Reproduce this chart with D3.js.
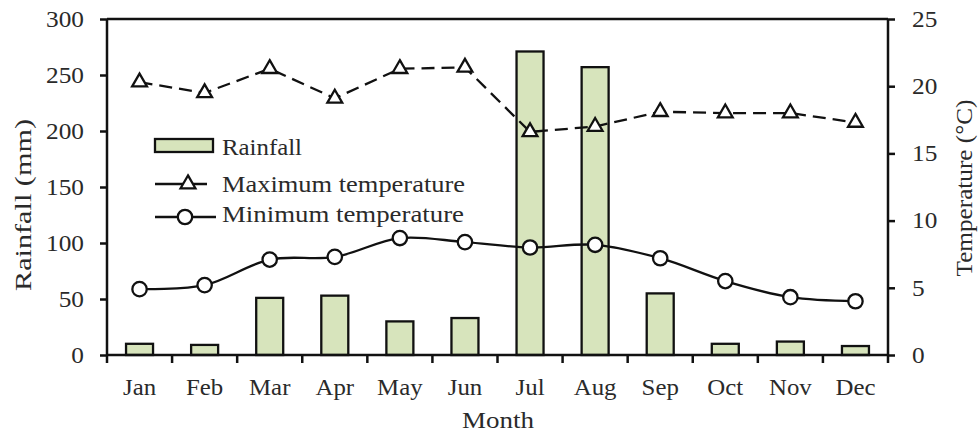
<!DOCTYPE html>
<html><head><meta charset="utf-8">
<script src="https://cdn.jsdelivr.net/npm/d3@7"></script>
<style>body{margin:0;background:#fff}svg{display:block}text{font-family:"Liberation Serif","Times New Roman",serif;fill:#2a2a2a}</style>
</head><body><svg id="c" width="979" height="435"></svg>
<script>
const months = ["Jan","Feb","Mar","Apr","May","Jun","Jul","Aug","Sep","Oct","Nov","Dec"];
const rainfall = [10, 9, 51, 53, 30, 33, 271, 257, 55, 10, 12, 8];
const maxTemp = [20.3, 19.5, 21.3, 19.1, 21.3, 21.4, 16.6, 17.0, 18.1, 18.0, 18.0, 17.3];
const minTemp = [4.9, 5.2, 7.1, 7.3, 8.7, 8.4, 8.0, 8.2, 7.2, 5.5, 4.3, 4.0];
const rainTicks = [0,50,100,150,200,250,300];
const tempTicks = [0,5,10,15,20,25];

const svg = d3.select("#c");
const L=107, R=888, T=19, B=355;
const xb = d3.scaleBand().domain(months).range([L,R]);
const yL = d3.scaleLinear().domain([0,300]).range([B,T]);
const yR = d3.scaleLinear().domain([0,25]).range([B,T]);
const cx = m => xb(m)+xb.bandwidth()/2;
const FS = "23px", SW = 2.3;
function stretch(sel, f){ sel.each(function(){ const w=this.getComputedTextLength(); d3.select(this).attr("textLength", w*f).attr("lengthAdjust","spacingAndGlyphs"); }); }

// bars
svg.append("g").selectAll("rect").data(months).join("rect")
  .attr("x", m=>cx(m)-13.5).attr("width",27)
  .attr("y",(m,i)=>yL(rainfall[i])).attr("height",(m,i)=>B-yL(rainfall[i]))
  .attr("fill","#d7e4bc").attr("stroke","#111").attr("stroke-width",SW);

// max temp line dashed
svg.append("path").datum(maxTemp)
  .attr("d", d3.line().x((d,i)=>cx(months[i])).y(d=>yR(d)))
  .attr("fill","none").attr("stroke","#111").attr("stroke-width",SW).attr("stroke-dasharray","13,7");
// min temp smooth
svg.append("path").datum(minTemp)
  .attr("d", d3.line().x((d,i)=>cx(months[i])).y(d=>yR(d)).curve(d3.curveCatmullRom.alpha(0.5)))
  .attr("fill","none").attr("stroke","#111").attr("stroke-width",SW);

const tri = d3.symbol().type(d3.symbolTriangle).size(95);
svg.append("g").selectAll("path").data(maxTemp).join("path")
  .attr("d", tri).attr("transform",(d,i)=>`translate(${cx(months[i])},${yR(d)})`)
  .attr("fill","#fff").attr("stroke","#111").attr("stroke-width",SW);
svg.append("g").selectAll("circle").data(minTemp).join("circle")
  .attr("cx",(d,i)=>cx(months[i])).attr("cy",d=>yR(d)).attr("r",7.2)
  .attr("fill","#fff").attr("stroke","#111").attr("stroke-width",SW);

// axes
const gl = svg.append("g").attr("transform",`translate(${L},0)`)
  .call(d3.axisLeft(yL).tickValues(rainTicks).tickSize(7).tickPadding(16));
const gr = svg.append("g").attr("transform",`translate(${R},0)`)
  .call(d3.axisRight(yR).tickValues(tempTicks).tickSize(7).tickPadding(17));
const gb = svg.append("g").attr("transform",`translate(0,${B})`)
  .call(d3.axisBottom(xb).tickSize(0).tickPadding(24));
[gl,gr,gb].forEach(g=>{
  g.selectAll("text").attr("font-size",FS).attr("font-family","Liberation Serif").attr("fill","#2a2a2a");
  g.select(".domain").attr("stroke","#111").attr("stroke-width",2.5);
  g.selectAll(".tick line").attr("stroke","#111").attr("stroke-width",2.5);
});
gl.select(".domain").attr("d",`M0,${T}V${B}`);
gr.select(".domain").attr("d",`M0,${T}V${B}`);
gb.select(".domain").attr("d",`M${L},0H${R}`);
stretch(gl.selectAll("text"),1.1);
stretch(gr.selectAll("text"),1.1);
stretch(gb.selectAll("text"),1.08);
// bottom ticks between categories
svg.append("g").selectAll("line").data(d3.range(13)).join("line")
  .attr("x1",i=>L+i*xb.step()).attr("x2",i=>L+i*xb.step())
  .attr("y1",B).attr("y2",B+8).attr("stroke","#111").attr("stroke-width",2.5);
// top border
svg.append("line").attr("x1",L).attr("x2",R).attr("y1",T).attr("y2",T).attr("stroke","#111").attr("stroke-width",2.5);

// titles
svg.append("text").attr("x",498).attr("y",428).attr("text-anchor","middle").attr("font-size",FS)
  .attr("textLength",72).attr("lengthAdjust","spacingAndGlyphs").text("Month");
svg.append("text").attr("transform","translate(31,205) rotate(-90)").attr("text-anchor","middle").attr("font-size",FS)
  .attr("textLength",172).attr("lengthAdjust","spacingAndGlyphs").text("Rainfall (mm)");
svg.append("text").attr("transform","translate(972,188) rotate(-90)").attr("text-anchor","middle").attr("font-size",FS)
  .attr("textLength",177).attr("lengthAdjust","spacingAndGlyphs").text("Temperature (°C)");

// legend
const lg = svg.append("g");
lg.append("rect").attr("x",155).attr("y",139).attr("width",58).attr("height",13)
  .attr("fill","#d7e4bc").attr("stroke","#111").attr("stroke-width",SW);
lg.append("text").attr("x",222).attr("y",155).attr("font-size",FS)
  .attr("textLength",80).attr("lengthAdjust","spacingAndGlyphs").text("Rainfall");
lg.append("line").attr("x1",155).attr("x2",207).attr("y1",184).attr("y2",184).attr("stroke","#111").attr("stroke-width",SW);
lg.append("path").attr("d",tri).attr("transform","translate(188,184)").attr("fill","#fff").attr("stroke","#111").attr("stroke-width",SW);
lg.append("text").attr("x",222).attr("y",192).attr("font-size",FS)
  .attr("textLength",243).attr("lengthAdjust","spacingAndGlyphs").text("Maximum temperature");
lg.append("line").attr("x1",155).attr("x2",216).attr("y1",217).attr("y2",217).attr("stroke","#111").attr("stroke-width",SW);
lg.append("circle").attr("cx",185).attr("cy",217).attr("r",7.2).attr("fill","#fff").attr("stroke","#111").attr("stroke-width",SW);
lg.append("text").attr("x",222).attr("y",222).attr("font-size",FS)
  .attr("textLength",242).attr("lengthAdjust","spacingAndGlyphs").text("Minimum temperature");
</script></body></html>
